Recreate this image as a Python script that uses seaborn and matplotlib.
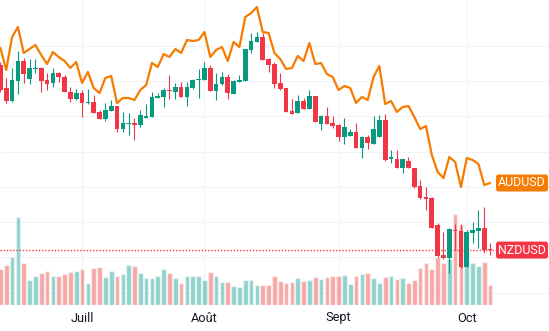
import numpy as np
import pandas as pd
import matplotlib
matplotlib.use("Agg")
import matplotlib.pyplot as plt
import seaborn as sns
from matplotlib.patches import FancyBboxPatch
from matplotlib.transforms import IdentityTransform, blended_transform_factory

# ---------------- data (daily sessions, mid-June -> early Oct) ----------------
months = ["Juill", "Août", "Sept", "Oct"]
month_start = [14, 35, 58, 80]          # session index of the first trading day of each month

nzd_open = [0.6346, 0.6281, 0.6244, 0.6301, 0.6357, 0.6306, 0.6335, 0.6338, 0.6304, 0.6295,
            0.6323, 0.6312, 0.6270, 0.6250, 0.6267, 0.6238, 0.6241, 0.6213, 0.6193, 0.6216,
            0.6230, 0.6165, 0.6179, 0.6182, 0.6176, 0.6196, 0.6199, 0.6252, 0.6255, 0.6275,
            0.6270, 0.6284, 0.6255, 0.6281, 0.6304, 0.6304, 0.6338, 0.6272, 0.6292, 0.6312,
            0.6264, 0.6298, 0.6301, 0.6389, 0.6411, 0.6426, 0.6363, 0.6349, 0.6295, 0.6281,
            0.6216, 0.6210, 0.6244, 0.6221, 0.6258, 0.6179, 0.6201, 0.6182, 0.6176, 0.6142,
            0.6145, 0.6156, 0.6111, 0.6142, 0.6122, 0.6142, 0.6190, 0.6079, 0.6079, 0.6054,
            0.6074, 0.6054, 0.6003, 0.5972, 0.5969, 0.5892, 0.5807, 0.5799, 0.5878, 0.5875,
            0.5773, 0.5870, 0.5875, 0.5884, 0.5824]
nzd_high = [0.6355, 0.6309, 0.6338, 0.6386, 0.6366, 0.6363, 0.6363, 0.6340, 0.6323, 0.6338,
            0.6326, 0.6318, 0.6284, 0.6278, 0.6275, 0.6278, 0.6261, 0.6218, 0.6238, 0.6247,
            0.6230, 0.6213, 0.6210, 0.6196, 0.6218, 0.6235, 0.6270, 0.6267, 0.6281, 0.6318,
            0.6295, 0.6298, 0.6298, 0.6306, 0.6335, 0.6355, 0.6346, 0.6323, 0.6326, 0.6321,
            0.6304, 0.6318, 0.6391, 0.6437, 0.6440, 0.6437, 0.6366, 0.6355, 0.6323, 0.6281,
            0.6250, 0.6261, 0.6252, 0.6275, 0.6258, 0.6204, 0.6227, 0.6201, 0.6179, 0.6196,
            0.6165, 0.6182, 0.6145, 0.6148, 0.6201, 0.6204, 0.6207, 0.6105, 0.6105, 0.6079,
            0.6085, 0.6054, 0.6020, 0.6000, 0.5972, 0.5898, 0.5872, 0.5884, 0.5895, 0.5895,
            0.5878, 0.5901, 0.5935, 0.5943, 0.5841]
nzd_low = [0.6270, 0.6238, 0.6241, 0.6264, 0.6295, 0.6292, 0.6323, 0.6270, 0.6275, 0.6284,
           0.6298, 0.6269, 0.6241, 0.6247, 0.6199, 0.6235, 0.6210, 0.6193, 0.6187, 0.6216,
           0.6156, 0.6156, 0.6148, 0.6133, 0.6170, 0.6196, 0.6199, 0.6252, 0.6227, 0.6250,
           0.6250, 0.6255, 0.6230, 0.6278, 0.6252, 0.6304, 0.6272, 0.6247, 0.6289, 0.6250,
           0.6264, 0.6298, 0.6301, 0.6380, 0.6411, 0.6360, 0.6326, 0.6281, 0.6275, 0.6213,
           0.6207, 0.6210, 0.6221, 0.6221, 0.6184, 0.6162, 0.6179, 0.6167, 0.6131, 0.6122,
           0.6145, 0.6111, 0.6082, 0.6108, 0.6122, 0.6142, 0.6074, 0.6068, 0.6054, 0.6040,
           0.6054, 0.5997, 0.5966, 0.5935, 0.5884, 0.5801, 0.5796, 0.5756, 0.5821, 0.5770,
           0.5773, 0.5841, 0.5827, 0.5813, 0.5807]
nzd_close = [0.6275, 0.6244, 0.6304, 0.6357, 0.6321, 0.6338, 0.6338, 0.6301, 0.6292, 0.6323,
             0.6312, 0.6270, 0.6250, 0.6267, 0.6238, 0.6241, 0.6210, 0.6193, 0.6218, 0.6230,
             0.6165, 0.6182, 0.6182, 0.6176, 0.6204, 0.6201, 0.6255, 0.6258, 0.6275, 0.6272,
             0.6284, 0.6255, 0.6284, 0.6304, 0.6306, 0.6338, 0.6272, 0.6292, 0.6312, 0.6267,
             0.6301, 0.6304, 0.6391, 0.6414, 0.6426, 0.6360, 0.6346, 0.6292, 0.6278, 0.6213,
             0.6207, 0.6244, 0.6221, 0.6258, 0.6184, 0.6201, 0.6179, 0.6173, 0.6142, 0.6170,
             0.6156, 0.6111, 0.6142, 0.6125, 0.6165, 0.6190, 0.6077, 0.6085, 0.6054, 0.6079,
             0.6054, 0.6000, 0.5969, 0.5966, 0.5884, 0.5804, 0.5799, 0.5881, 0.5875, 0.5773,
             0.5872, 0.5878, 0.5884, 0.5821, 0.5821]
aud_close = [0.6958, 0.6870, 0.7002, 0.7042, 0.6938, 0.6954, 0.6970, 0.6930, 0.6894, 0.6942,
             0.6922, 0.6906, 0.6878, 0.6902, 0.6818, 0.6862, 0.6798, 0.6778, 0.6838, 0.6846,
             0.6738, 0.6758, 0.6758, 0.6750, 0.6790, 0.6810, 0.6898, 0.6882, 0.6934, 0.6922,
             0.6954, 0.6938, 0.6990, 0.6986, 0.6990, 0.7022, 0.6922, 0.6950, 0.6962, 0.6906,
             0.6982, 0.6962, 0.7082, 0.7098, 0.7122, 0.7022, 0.7018, 0.6938, 0.6914, 0.6874,
             0.6878, 0.6926, 0.6906, 0.6978, 0.6894, 0.6898, 0.6854, 0.6842, 0.6790, 0.6806,
             0.6798, 0.6738, 0.6762, 0.6750, 0.6842, 0.6886, 0.6734, 0.6746, 0.6702, 0.6722,
             0.6726, 0.6682, 0.6634, 0.6646, 0.6530, 0.6462, 0.6438, 0.6522, 0.6502, 0.6402,
             0.6518, 0.6510, 0.6494, 0.6410, 0.6418]
volume = [36500, 40500, 48500, 87800, 41800, 25500, 29500, 31800, 33800, 29500,
          29500, 30800, 32800, 34500, 36500, 22500, 37500, 38500, 28500, 34500,
          29500, 30800, 40500, 39500, 32500, 27500, 27500, 29500, 36500, 32500,
          27500, 22500, 29500, 29500, 29500, 25500, 33500, 29500, 23500, 23500,
          19500, 18500, 25500, 25500, 20500, 20500, 20500, 29500, 24500, 22500,
          23500, 27500, 24500, 25500, 28500, 26500, 28500, 29500, 29500, 30500,
          21500, 29500, 31500, 32500, 27500, 22500, 28500, 29500, 26500, 27500,
          22500, 25500, 37500, 42500, 36500, 48500, 42500, 46500, 91500, 80500,
          44500, 42500, 39500, 43500, 20500]

# ---------------- style ----------------
UP, DOWN = "#089981", "#F23645"
VOL_UP, VOL_DOWN = "#26A69A", "#EF5350"
AUD_COLOR = "#F57C00"
GRID = "#F0F3FA"
TEXT = "#131722"

sns.set_theme(style="white")
plt.rcParams["font.family"] = ["Roboto", "DejaVu Sans"]

n = len(nzd_close)
df = pd.DataFrame({"i": np.arange(n), "open": nzd_open, "high": nzd_high,
                   "low": nzd_low, "close": nzd_close, "aud": aud_close, "volume": volume})
df["dir"] = np.where(df["close"] >= df["open"], "up", "down")

W, H = 549, 331
fig = plt.figure(figsize=(W / 100, H / 100), dpi=100)
fig.patch.set_facecolor("white")
rect = [0, 26 / H, 1, 305 / H]

ax_grid = fig.add_axes(rect)
ax_vol = fig.add_axes(rect)
ax_nzd = fig.add_axes(rect)
ax_aud = fig.add_axes(rect)

XLIM = (-0.07, 94.1)
NZD_LIM = (0.56652, 0.65305)
AUD_LIM = (0.5930, 0.7150)
VOL_LIM = (0, 305000)

# grid layer
ax_grid.set_xlim(*XLIM)
ax_grid.set_ylim(*NZD_LIM)
ax_grid.set_xticks(month_start)
ax_grid.set_yticks(np.arange(0.57, 0.645, 0.01))
ax_grid.tick_params(length=0, labelleft=False, labelbottom=False)
ax_grid.grid(True, color=GRID, linewidth=0.8)
for s in ax_grid.spines.values():
    s.set_visible(False)
ax_grid.set_facecolor("white")
tr = blended_transform_factory(ax_grid.transData, ax_grid.transAxes)
for m, pos in zip(months, month_start):
    ax_grid.text(pos, -13 / 305, m, transform=tr, ha="center", va="center",
                 fontsize=9.2, color=TEXT)

# volume layer
sns.barplot(data=df, x="i", y="volume", hue="dir",
            palette={"up": VOL_UP, "down": VOL_DOWN}, dodge=False, width=0.8,
            alpha=0.5, saturation=1, errorbar=None, legend=False, ax=ax_vol)
ax_vol.set_xlim(*XLIM)
ax_vol.set_ylim(*VOL_LIM)

# candles layer
colors = [UP if d == "up" else DOWN for d in df["dir"]]
ax_nzd.axhline(nzd_close[-1], xmin=0, xmax=496 / W, color=DOWN, linewidth=1.0,
               linestyle=(0, (1, 1.3)), zorder=1)
ax_nzd.vlines(df["i"], df["low"], df["high"], colors=colors, linewidth=0.8, zorder=2)
body_bottom = np.minimum(df["open"], df["close"])
body_height = np.maximum(np.abs(df["close"] - df["open"]), 0.0003)
ax_nzd.bar(df["i"], body_height, bottom=body_bottom, width=0.8, color=colors,
           linewidth=0, zorder=3)
ax_nzd.set_xlim(*XLIM)
ax_nzd.set_ylim(*NZD_LIM)

# AUDUSD line layer
sns.lineplot(x=df["i"], y=df["aud"], ax=ax_aud, color=AUD_COLOR, linewidth=1.6)
ax_aud.set_xlim(*XLIM)
ax_aud.set_ylim(*AUD_LIM)

for a in (ax_vol, ax_nzd, ax_aud):
    a.set_axis_off()
    a.patch.set_visible(False)


def tag(ax, value, text, color):
    y = ax.transData.transform((0, value))[1]
    box = FancyBboxPatch((496, y - 8.5), 52, 17,
                         boxstyle="round,pad=0,rounding_size=2.5",
                         transform=IdentityTransform(), fc=color, ec="none")
    fig.add_artist(box)
    fig.text(522, y, text, transform=IdentityTransform(), ha="center", va="center",
             color="white", fontsize=8.9)


tag(ax_aud, aud_close[-1], "AUDUSD", AUD_COLOR)
tag(ax_nzd, nzd_close[-1], "NZDUSD", DOWN)

fig.savefig("out.png", dpi=100, facecolor="white")
